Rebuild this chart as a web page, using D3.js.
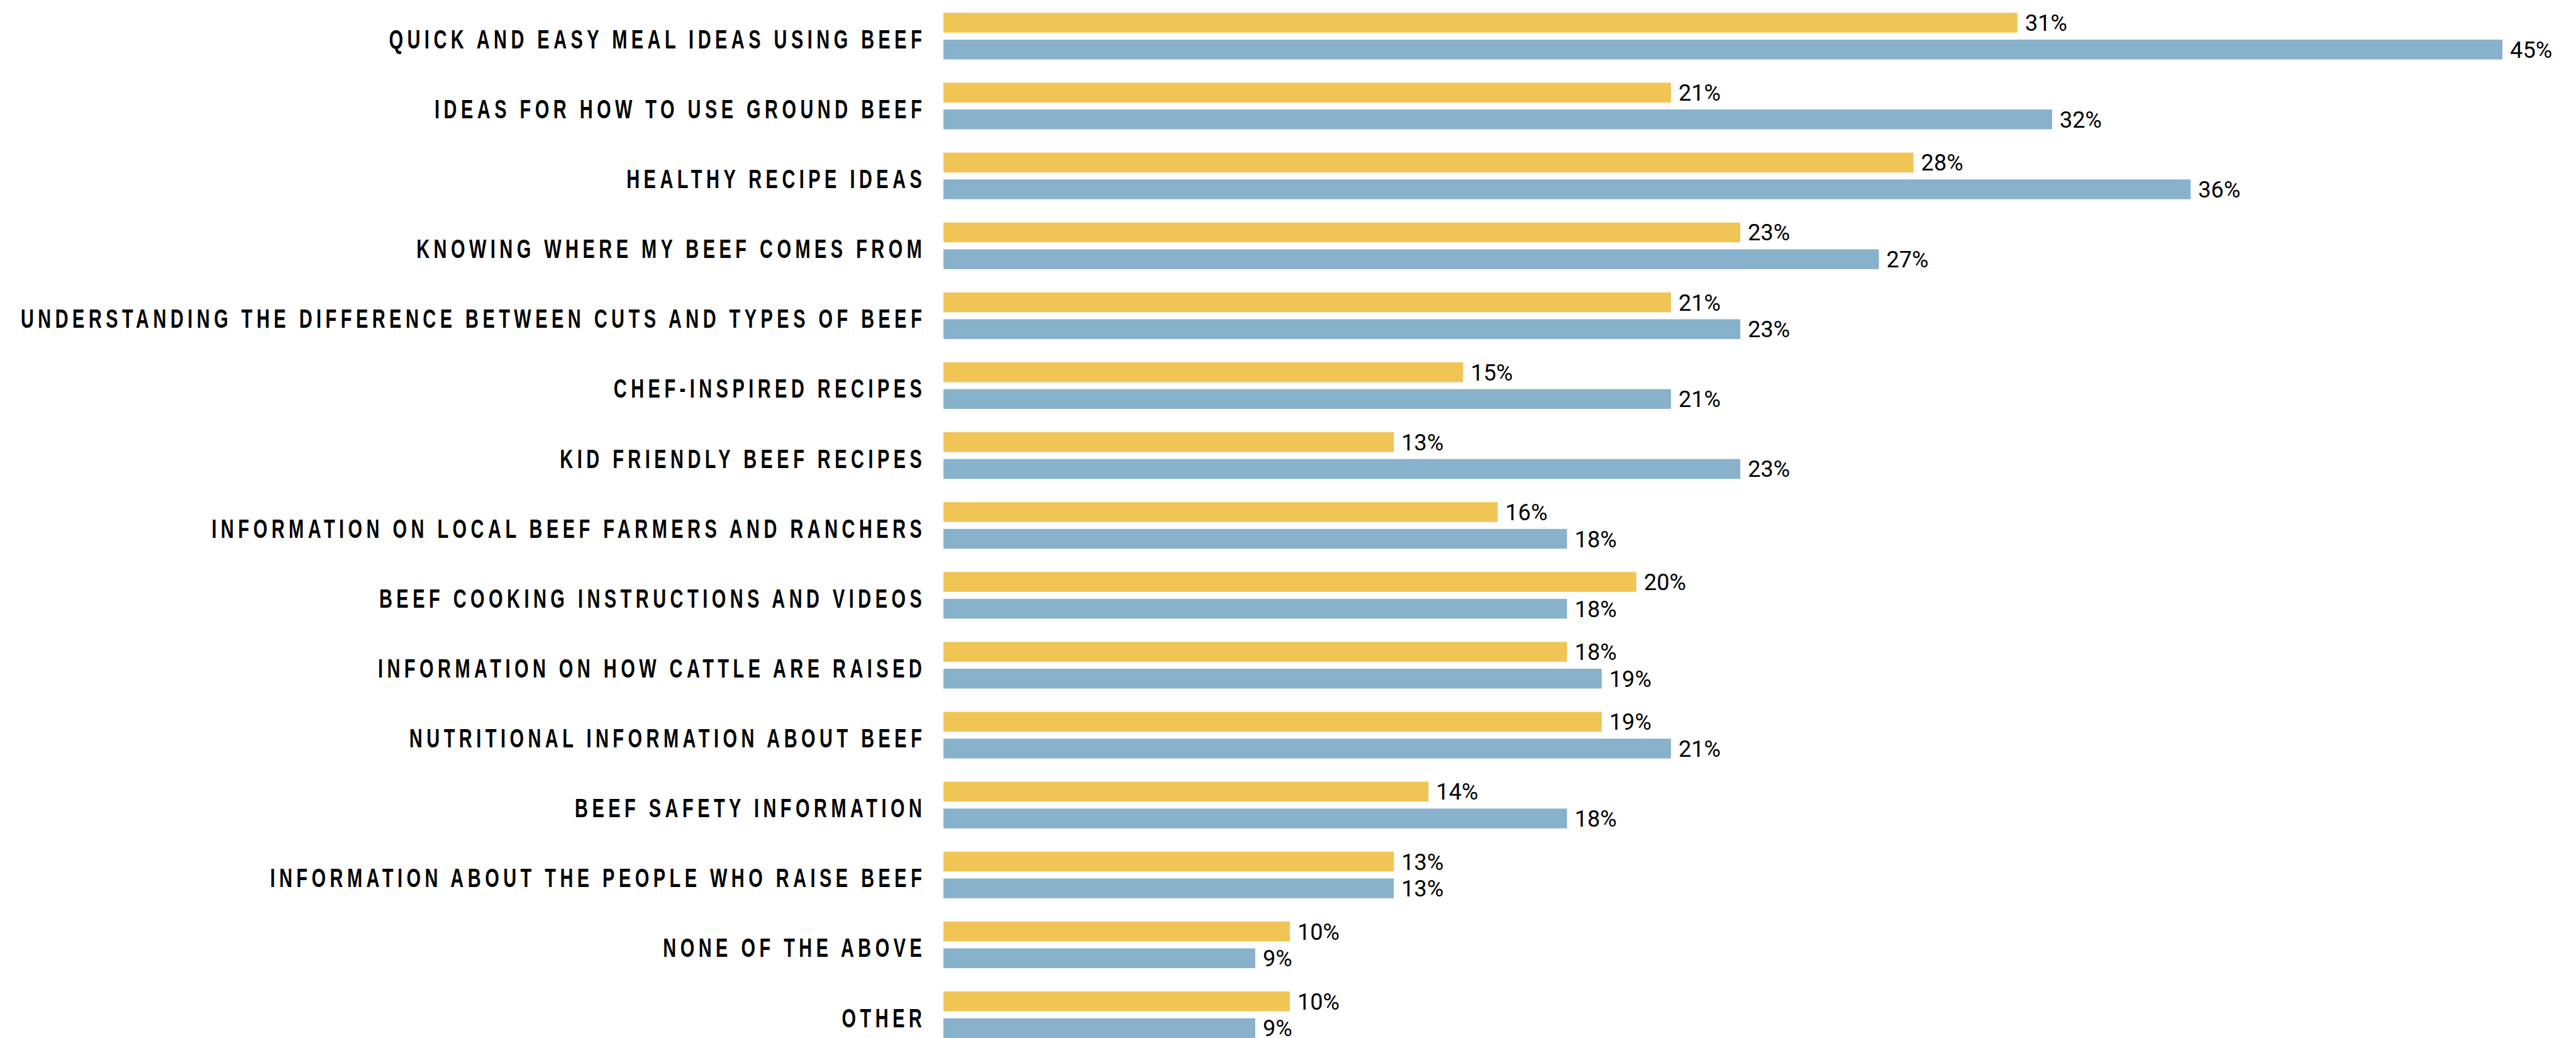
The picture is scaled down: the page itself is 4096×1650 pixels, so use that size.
<!DOCTYPE html>
<meta charset="utf-8">
<html>
  <head>
    <script src="https://d3js.org/d3.v7.min.js"></script>
    <style>
      body { margin: 0; background: #fff; }
    </style>
  </head>
  <body>
    <div id="chart"></div>

    <script type="text/javascript">
      var categories = [
        "QUICK AND EASY MEAL IDEAS USING BEEF",
        "IDEAS FOR HOW TO USE GROUND BEEF",
        "HEALTHY RECIPE IDEAS",
        "KNOWING WHERE MY BEEF COMES FROM",
        "UNDERSTANDING THE DIFFERENCE BETWEEN CUTS AND TYPES OF BEEF",
        "CHEF-INSPIRED RECIPES",
        "KID FRIENDLY BEEF RECIPES",
        "INFORMATION ON LOCAL BEEF FARMERS AND RANCHERS",
        "BEEF COOKING INSTRUCTIONS AND VIDEOS",
        "INFORMATION ON HOW CATTLE ARE RAISED",
        "NUTRITIONAL INFORMATION ABOUT BEEF",
        "BEEF SAFETY INFORMATION",
        "INFORMATION ABOUT THE PEOPLE WHO RAISE BEEF",
        "NONE OF THE ABOVE",
        "OTHER"
      ];
      var yellowValues = [31, 21, 28, 23, 21, 15, 13, 16, 20, 18, 19, 14, 13, 10, 10];
      var blueValues   = [45, 32, 36, 27, 23, 21, 23, 18, 18, 19, 21, 18, 13, 9, 9];
      var seriesKeys = ["yellow", "blue"];

      var width = 4096,
          height = 1650,
          s = 0.926,
          colors = { yellow: "#F1C456", blue: "#88B2CC" };

      var data = categories.map(function(c, i) {
        return { label: c, yellow: yellowValues[i], blue: blueValues[i] };
      });

      var svg = d3.select("#chart").append("svg")
          .attr("width", width)
          .attr("height", height);

      var x = d3.scaleLinear()
          .domain([0, 47])
          .range([1620 * s, 1620 * s + 47 * 59.49 * s]);

      var y = d3.scaleBand()
          .domain(categories)
          .range([22 * s, 22 * s + 14 * 120 * s + 80 * s])
          .paddingInner(1 - 80 / 120)
          .paddingOuter(0);

      var ySub = d3.scaleBand()
          .domain(seriesKeys)
          .range([0, y.bandwidth()])
          .paddingInner(12 / 46)
          .paddingOuter(0);

      var groups = svg.selectAll(".group")
          .data(data)
          .enter().append("g")
          .attr("class", "group")
          .attr("transform", function(d){ return "translate(0," + y(d.label) + ")"; });

      // category labels, narrow and letter spaced
      groups.append("text")
          .attr("transform", function(d){ return "translate(" + (1590 * s) + "," + (y.bandwidth() / 2 + 21 * s) + ") scale(0.68,1)"; })
          .text(function(d){ return d.label; })
          .style("font-family", "'Liberation Sans Narrow', 'Liberation Sans', sans-serif")
          .style("font-weight", "bold")
          .style("font-size", (46 * s) + "px")
          .style("letter-spacing", (10.3 * s) + "px")
          .style("fill", "#000")
          .style("text-anchor", "end");

      seriesKeys.forEach(function(k) {
        groups.append("rect")
            .attr("x", x(0))
            .attr("y", ySub(k))
            .attr("width", function(d){ return x(d[k]) - x(0); })
            .attr("height", ySub.bandwidth())
            .style("fill", colors[k]);

        groups.append("text")
            .attr("x", function(d){ return x(d[k]) + 13 * s; })
            .attr("y", ySub(k) + ySub.bandwidth() / 2 + 14 * s)
            .text(function(d){ return d[k] + "%"; })
            .style("font-family", "Roboto, sans-serif")
            .style("font-size", (39 * s) + "px")
            .style("fill", "#000");
      });
    </script>
  </body>
</html>
